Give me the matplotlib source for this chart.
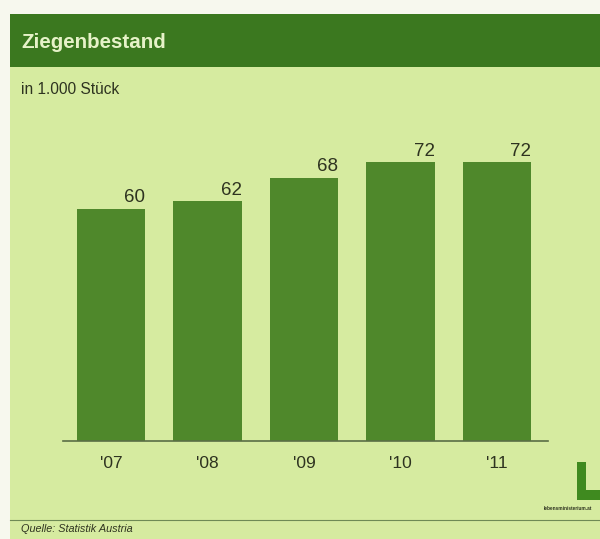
import matplotlib
matplotlib.use("Agg")
import matplotlib.pyplot as plt
from matplotlib.patches import Rectangle

years = ["'07", "'08", "'09", "'10", "'11"]
values = [60, 62, 68, 72, 72]
title = "Ziegenbestand"
unit = "in 1.000 Stück"
source = "Quelle: Statistik Austria"

W, H = 600, 539
fig = plt.figure(figsize=(W / 100, H / 100), dpi=100)
fig.patch.set_facecolor("#f7f8ee")

bg = "#d6eba0"
header = "#3b781f"
bar_c = "#4f882b"
text_c = "#2e3320"

def fx(px):
    return px / W

def fy(py):
    return 1 - py / H

# light panel
fig.patches.append(Rectangle((fx(10), 0), 1 - fx(10), fy(67), transform=fig.transFigure,
                             facecolor=bg, edgecolor="none", zorder=-2))
# header band
fig.patches.append(Rectangle((fx(10), fy(67)), 1 - fx(10), fy(14) - fy(67), transform=fig.transFigure,
                             facecolor=header, edgecolor="none", zorder=-2))
fig.text(fx(21), fy(42), title, color="#e6f2c8", fontsize=14.8, fontweight="bold",
         va="center", ha="left", family="Liberation Sans")
fig.text(fx(21), fy(90), unit, color=text_c, fontsize=11.2, va="center", ha="left",
         family="Liberation Sans")

# bottom rule and source
fig.add_artist(plt.Line2D([fx(10), 1], [fy(520), fy(520)], transform=fig.transFigure,
                          color="#6f8a55", lw=0.8))
fig.text(fx(21), fy(529), source, color=text_c, fontsize=7.8, style="italic",
         va="center", ha="left", family="Liberation Sans")

# logo
fig.patches.append(Rectangle((fx(577), fy(500)), fx(9), fy(462) - fy(500), transform=fig.transFigure,
                             facecolor="#3f8a1f", edgecolor="none"))
fig.patches.append(Rectangle((fx(577), fy(500)), 1 - fx(577), fy(490) - fy(500), transform=fig.transFigure,
                             facecolor="#3f8a1f", edgecolor="none"))
fig.text(fx(592), fy(508), "lebensministerium.at", color=text_c, fontsize=3.4,
         va="center", ha="right", family="Liberation Sans", fontweight="bold")

# chart axes
ax = fig.add_axes([fx(63), fy(441), fx(548) - fx(63), fy(130) - fy(441)])
ax.set_zorder(1)
ax.set_facecolor("none")
x = list(range(len(years)))
bars = ax.bar(x, values, width=0.71, color=bar_c, zorder=2)
ax.set_xlim(-0.497, 4.53)
ax.set_ylim(0, (441 - 130) / 3.875)
for rect, v in zip(bars, values):
    ax.text(rect.get_x() + rect.get_width(), v + 1.6, str(v), ha="right", va="baseline",
            fontsize=13.5, color=text_c, family="Liberation Sans")
ax.set_xticks(x)
ax.set_xticklabels(years, fontsize=12.5, color=text_c, family="Liberation Sans")
ax.tick_params(axis="x", length=0, pad=11)
ax.set_yticks([])
for s in ["top", "right", "left"]:
    ax.spines[s].set_visible(False)
ax.spines["bottom"].set_color("#5a6e45")
ax.spines["bottom"].set_linewidth(1.2)

fig.savefig("out.png", dpi=100, facecolor=fig.get_facecolor())
